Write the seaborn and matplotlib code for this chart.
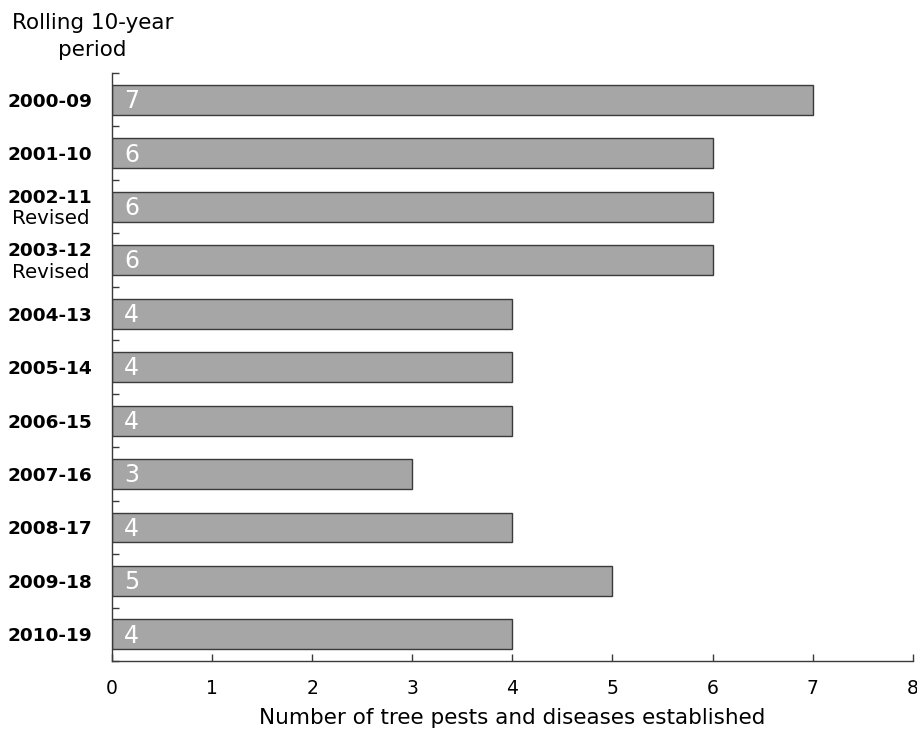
import matplotlib
matplotlib.use("Agg")
import matplotlib.pyplot as plt
import seaborn as sns
import pandas as pd
import numpy as np

# rolling 10-year periods and number of tree pests/diseases established
periods = ["2000-09", "2001-10", "2002-11", "2003-12", "2004-13", "2005-14",
           "2006-15", "2007-16", "2008-17", "2009-18", "2010-19"]
counts = [7, 6, 6, 6, 4, 4, 4, 3, 4, 5, 4]
revised = ["2002-11", "2003-12"]
x_ticks = [0, 1, 2, 3, 4, 5, 6, 7, 8]

df = pd.DataFrame({"period": periods, "count": counts})

sns.set_theme(style="white")
plt.rcParams['font.family'] = ['DejaVu Sans']
plt.rcParams['text.color'] = 'black'
plt.rcParams['xtick.color'] = 'black'
plt.rcParams['ytick.color'] = 'black'
plt.rcParams['axes.labelcolor'] = 'black'

fig = plt.figure(figsize=(9.17, 7.29), dpi=100)
ax = fig.add_axes([0.122, 0.093, 0.8735, 0.807])

sns.barplot(data=df, x="count", y="period", orient="h", color="#a6a6a6",
            saturation=1, width=0.56, edgecolor="#3a3a3a", linewidth=1, ax=ax)

# value labels inside the bars
for i, v in enumerate(counts):
    ax.annotate(str(v), xy=(0, i), xytext=(9, -1), textcoords="offset points",
                ha="left", va="center", color="white", fontsize=17)

ax.set_xlim(0, 8)
ax.set_ylim(len(periods) - 0.5, -0.5)
ax.set_xticks(x_ticks)
ax.set_xticklabels([str(t) for t in x_ticks], fontsize=13.5)
ax.set_xlabel("Number of tree pests and diseases established", fontsize=15.5, labelpad=7)
ax.set_ylabel("")

# category boundary ticks on the y axis
ax.set_yticks(np.arange(-0.5, len(periods), 1), minor=True)
ax.tick_params(axis="y", which="major", length=0, pad=14)
ax.tick_params(axis="y", which="minor", direction="in", length=5, width=1, color="#3a3a3a", left=True)
ax.tick_params(axis="x", which="major", direction="in", length=5, width=1, color="#3a3a3a",
               bottom=True, pad=13)

ax.set_yticks(range(len(periods)))
ax.set_yticklabels(periods, fontsize=13.3, fontweight="bold")
for lab in ax.get_yticklabels():
    if lab.get_text() in revised:
        lab.set_va("bottom")
for p in revised:
    i = periods.index(p)
    ax.annotate("Revised", xy=(0, i), xycoords=ax.get_yaxis_transform(),
                xytext=(-16, -2), textcoords="offset points", ha="right", va="top",
                fontsize=14.3)

for s in ["top", "right"]:
    ax.spines[s].set_visible(False)
for s in ["left", "bottom"]:
    ax.spines[s].set_color("#3a3a3a")
    ax.spines[s].set_linewidth(1)

fig.text(0.101, 0.982, "Rolling 10-year\nperiod", ha="center", va="top", fontsize=15.5,
         linespacing=1.45)

fig.savefig("out.png", dpi=100)
